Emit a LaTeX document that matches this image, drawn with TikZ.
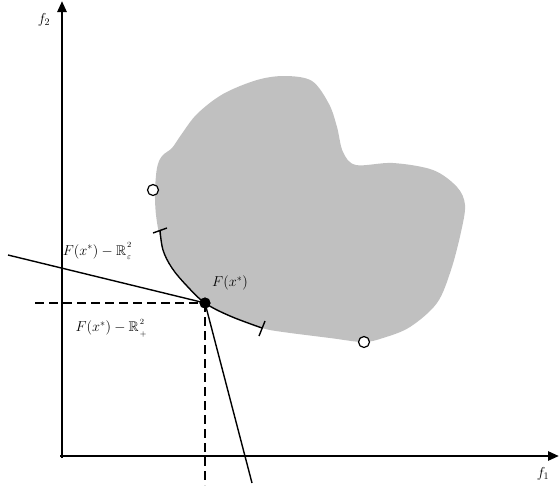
\documentclass[tikz,border=0pt]{standalone}
\usepackage{amssymb}
\usetikzlibrary{arrows.meta}
\definecolor{regiongray}{RGB}{192,192,192}
\tikzset{
  axisline/.style={line width=2.6pt,-{Triangle[length=11pt,width=9pt]}},
  thinline/.style={line width=1.4pt},
  dashline/.style={line width=1.4pt,dash pattern=on 9pt off 5pt},
  openpt/.style={circle,draw,line width=1.2pt,fill=white,minimum size=11pt,inner sep=0pt},
  fullpt/.style={circle,fill=black,minimum size=11pt,inner sep=0pt},
  lbl/.style={font=\fontsize{14}{16}\selectfont,inner sep=0pt}
}
\newcommand{\coneset}[1]{$\mathbb{R}$\kern1pt\rlap{\raisebox{7.5pt}{\fontsize{8}{9}\selectfont 2}}\raisebox{-4.5pt}{\fontsize{8}{9}\selectfont$#1$}}
\begin{document}
\begin{tikzpicture}[x=1pt,y=-1pt]
\useasboundingbox (0,0) rectangle (560,485);
% region
\fill[regiongray] plot[smooth cycle,tension=0.55] coordinates {
 (155,192) (157,168) (162,156) (172,148) (181,135) (197,114) (223,94) (257,80) (285,76)
 (312,81) (329,104) (337,127) (343,152) (356,165) (393,163) (433,170) (457,187)
 (465,205) (461,232) (451,270) (437,303) (410,327) (383,338) (363,342) (330,338)
 (283,332) (262,328) (230,316) (205,303) (185,283) (168,260) (160,237) (156,215)};
% axes
\coordinate (O) at (62,458);
\coordinate (Ytop) at (62,1);
\coordinate (Xorg) at (60,456);
\coordinate (Xend) at (559,456);
\draw[axisline] (O) -- (Ytop);
\draw[axisline] (Xorg) -- (Xend);
\node[lbl] (f2) at (44,20) {$f_2$};
\node[lbl] (f1) at (543,474) {$f_1$};
% point
\node[fullpt] (P) at (205,303) {};
% efficient curve
\draw[thinline] plot[smooth,tension=0.6] coordinates {(160,230) (163,250) (172,268) (187,286) (205,303) (230,316) (262,328)};
\coordinate (t1a) at (153,233); \coordinate (t1b) at (167,228);
\coordinate (t2a) at (259,336); \coordinate (t2b) at (265,321);
\draw[thinline] (t1a) -- (t1b);
\draw[thinline] (t2a) -- (t2b);
% cone lines
\coordinate (L1) at (8,255);
\coordinate (L2) at (252,483);
\draw[thinline] (L1) -- (P.center);
\draw[thinline] (P.center) -- (L2);
% dashed
\coordinate (D1) at (35,303);
\coordinate (D2) at (205,485);
\draw[dashline] (D1) -- (P.center);
\draw[dashline] (P.center) -- (D2);
\node[fullpt] at (P) {};
% open points
\node[openpt] (c1) at (153,190) {};
\node[openpt] (c2) at (364,342) {};
% labels
\node[lbl] (la) at (97,251) {$F(x^{*})-{}$\coneset{\varepsilon}};
\node[lbl] (lb) at (111,328) {$F(x^{*})-{}$\coneset{+}};
\node[lbl] (lc) at (230,283) {$F(x^{*})$};
\end{tikzpicture}
\end{document}
